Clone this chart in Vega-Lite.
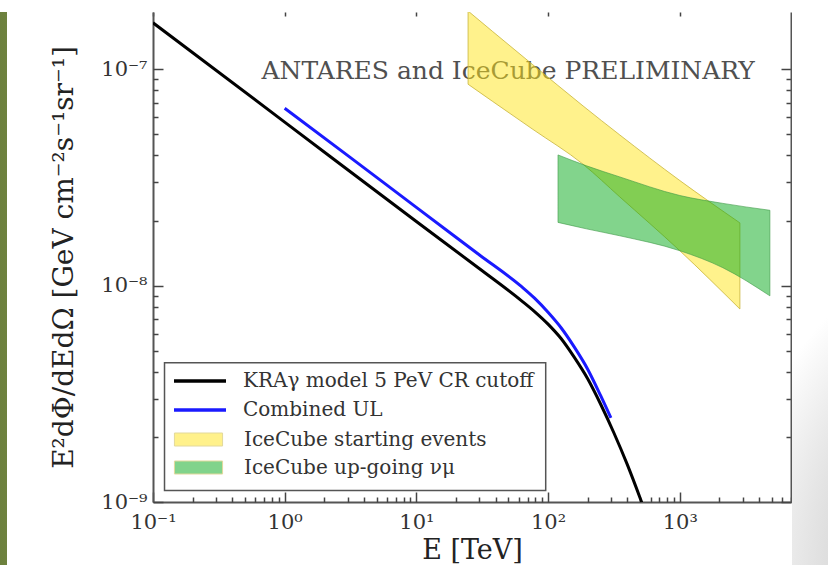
{
  "$schema": "https://vega.github.io/schema/vega-lite/v6.json",
  "background": "white",
  "padding": {"left": 0, "top": 11, "right": 0, "bottom": 0},
  "spacing": 0,
  "config": {
    "font": "DejaVu Serif",
    "view": {"stroke": null},
    "axis": {"grid": false, "labelFont": "DejaVu Serif", "titleFont": "DejaVu Serif"},
    "legend": {"labelFont": "DejaVu Serif"}
  },
  "datasets": {
    "kra": [
      {"series": "KRAγ model 5 PeV CR cutoff", "E": 0.1, "flux": 1.64e-7},
      {"series": "KRAγ model 5 PeV CR cutoff", "E": 1, "flux": 5.70e-8},
      {"series": "KRAγ model 5 PeV CR cutoff", "E": 10, "flux": 1.98e-8},
      {"series": "KRAγ model 5 PeV CR cutoff", "E": 30, "flux": 1.20e-8},
      {"series": "KRAγ model 5 PeV CR cutoff", "E": 63, "flux": 8.51e-9},
      {"series": "KRAγ model 5 PeV CR cutoff", "E": 79, "flux": 7.59e-9},
      {"series": "KRAγ model 5 PeV CR cutoff", "E": 100, "flux": 6.64e-9},
      {"series": "KRAγ model 5 PeV CR cutoff", "E": 126, "flux": 5.68e-9},
      {"series": "KRAγ model 5 PeV CR cutoff", "E": 158, "flux": 4.67e-9},
      {"series": "KRAγ model 5 PeV CR cutoff", "E": 200, "flux": 3.71e-9},
      {"series": "KRAγ model 5 PeV CR cutoff", "E": 251, "flux": 2.83e-9},
      {"series": "KRAγ model 5 PeV CR cutoff", "E": 316, "flux": 2.09e-9},
      {"series": "KRAγ model 5 PeV CR cutoff", "E": 398, "flux": 1.50e-9},
      {"series": "KRAγ model 5 PeV CR cutoff", "E": 501, "flux": 1.04e-9},
      {"series": "KRAγ model 5 PeV CR cutoff", "E": 631, "flux": 7.0e-10}
    ],
    "ul": [
      {"series": "Combined UL", "E": 1, "flux": 6.61e-8},
      {"series": "Combined UL", "E": 3, "flux": 4.00e-8},
      {"series": "Combined UL", "E": 10, "flux": 2.30e-8},
      {"series": "Combined UL", "E": 30, "flux": 1.39e-8},
      {"series": "Combined UL", "E": 63, "flux": 9.89e-9},
      {"series": "Combined UL", "E": 79, "flux": 8.75e-9},
      {"series": "Combined UL", "E": 100, "flux": 7.53e-9},
      {"series": "Combined UL", "E": 126, "flux": 6.37e-9},
      {"series": "Combined UL", "E": 158, "flux": 5.21e-9},
      {"series": "Combined UL", "E": 200, "flux": 4.11e-9},
      {"series": "Combined UL", "E": 251, "flux": 3.10e-9},
      {"series": "Combined UL", "E": 300, "flux": 2.45e-9}
    ],
    "starting": [
      {"series": "IceCube starting events", "E": 24.7, "lo": 8.53e-8, "hi": 1.86e-7},
      {"series": "IceCube starting events", "E": 38, "lo": 7.10e-8, "hi": 1.494e-7},
      {"series": "IceCube starting events", "E": 76.6, "lo": 5.28e-8, "hi": 1.05e-7},
      {"series": "IceCube starting events", "E": 184.5, "lo": 3.64e-8, "hi": 6.77e-8},
      {"series": "IceCube starting events", "E": 351, "lo": 2.57e-8, "hi": 4.97e-8},
      {"series": "IceCube starting events", "E": 1002, "lo": 1.45e-8, "hi": 3.06e-8},
      {"series": "IceCube starting events", "E": 2864, "lo": 7.80e-9, "hi": 1.95e-8}
    ],
    "upgoing": [
      {"series": "IceCube up-going νμ", "E": 119, "lo": 1.96e-8, "hi": 4.02e-8},
      {"series": "IceCube up-going νμ", "E": 196, "lo": 1.83e-8, "hi": 3.58e-8},
      {"series": "IceCube up-going νμ", "E": 351, "lo": 1.70e-8, "hi": 3.18e-8},
      {"series": "IceCube up-going νμ", "E": 1002, "lo": 1.45e-8, "hi": 2.61e-8},
      {"series": "IceCube up-going νμ", "E": 2128, "lo": 1.21e-8, "hi": 2.40e-8},
      {"series": "IceCube up-going νμ", "E": 4840, "lo": 8.97e-9, "hi": 2.23e-8}
    ],
    "note": [
      {"label": "ANTARES and IceCube PRELIMINARY"}
    ],
    "frame": [
      {"part": "legend box"}
    ]
  },
  "hconcat": [
    {
      "width": 50,
      "height": 554,
      "view": {
        "stroke": null,
        "fill": {
          "gradient": "linear", "x1": 0, "y1": 0, "x2": 1, "y2": 0,
          "stops": [
            {"offset": 0, "color": "#6c803d"},
            {"offset": 0.14, "color": "#6e823e"},
            {"offset": 0.141, "color": "#ffffff"},
            {"offset": 1, "color": "#ffffff"}
          ]
        }
      },
      "data": {"values": []},
      "mark": "point"
    },
    {
      "width": 638,
      "height": 490,
      "resolve": {"axis": {"x": "independent", "y": "independent"}},
      "layer": [
        {
          "data": {"name": "note"},
          "mark": {"type": "text", "align": "right", "baseline": "alphabetic", "font": "DejaVu Serif", "fontSize": 25, "fill": "#505050"},
          "encoding": {
            "x": {"datum": 3720, "type": "quantitative",
                  "scale": {"type": "log", "domain": [0.1, 7000], "nice": false},
                  "axis": {"orient": "top", "values": [0.1, 1, 10, 100, 1000], "domain": false, "labels": false, "ticks": true, "tickSize": -4, "tickColor": "#444444", "tickWidth": 1.5, "title": null}},
            "y": {"datum": 9.0e-8, "type": "quantitative",
                  "scale": {"type": "log", "domain": [1e-9, 1.84e-7], "nice": false},
                  "axis": {"orient": "right", "values": [2e-9, 3e-9, 4e-9, 5e-9, 6e-9, 7e-9, 8e-9, 9e-9, 2e-8, 3e-8, 4e-8, 5e-8, 6e-8, 7e-8, 8e-8, 9e-8], "domain": false, "labels": false, "ticks": true, "tickSize": -5, "tickColor": "#444444", "tickWidth": 1.5, "title": null}},
            "text": {"field": "label"}
          }
        },
        {
          "data": {"name": "starting"},
          "mark": {"type": "area", "clip": true, "fillOpacity": 0.5, "stroke": "#c8b43a", "strokeWidth": 1, "strokeOpacity": 0.8, "interpolate": "monotone"},
          "encoding": {
            "x": {"field": "E", "type": "quantitative",
                  "scale": {"type": "log", "domain": [0.1, 7000], "nice": false},
                  "axis": {"orient": "bottom", "values": [0.1, 1, 10, 100, 1000], "ticks": false, "domain": true, "domainColor": "#555555", "domainWidth": 2,
                           "labelExpr": "datum.value < 0.5 ? '10⁻¹' : datum.value < 5 ? '10⁰' : datum.value < 50 ? '10¹' : datum.value < 500 ? '10²' : '10³'",
                           "labelFont": "DejaVu Serif", "labelFontSize": 21, "labelColor": "#333333", "labelPadding": 9, "labelFlush": false, "labelOverlap": false,
                           "title": "E [TeV]", "titleFont": "DejaVu Serif", "titleFontSize": 27, "titleFontWeight": "normal", "titleColor": "#222222",
                           "titleX": 319, "titleY": 56, "titleAlign": "center", "titleBaseline": "alphabetic"}},
            "y": {"field": "hi", "type": "quantitative",
                  "scale": {"type": "log", "domain": [1e-9, 1.84e-7], "nice": false},
                  "axis": {"orient": "left", "values": [1e-9, 1e-8, 1e-7], "ticks": false, "domain": true, "domainColor": "#555555", "domainWidth": 2,
                           "labelExpr": "datum.value < 5e-9 ? '10⁻⁹' : datum.value < 5e-8 ? '10⁻⁸' : '10⁻⁷'",
                           "labelFont": "DejaVu Serif", "labelFontSize": 21, "labelColor": "#333333", "labelPadding": 6, "labelFlush": false, "labelOverlap": false, "labelBaseline": "middle",
                           "title": "E²dΦ/dEdΩ [GeV cm⁻²s⁻¹sr⁻¹]", "titleFont": "DejaVu Serif", "titleFontSize": 28, "titleFontWeight": "normal", "titleColor": "#222222",
                           "titleX": -88.5, "titleY": 245, "titleAngle": -90, "titleAlign": "center", "titleBaseline": "middle"}},
            "y2": {"field": "lo"},
            "fill": {"field": "series", "type": "nominal",
                     "scale": {"domain": ["IceCube starting events", "IceCube up-going νμ"], "range": ["#ffe519", "#05a919"]},
                     "legend": {
                       "orient": "none", "legendX": 172, "legendY": 414, "title": null, "direction": "vertical",
                       "padding": 0, "rowPadding": 4,
                       "labelFont": "DejaVu Serif", "labelFontSize": 20, "labelColor": "#333333", "labelOffset": 32, "labelLimit": 400,
                       "symbolSize": 676, "symbolOffset": 13, "symbolType": "M-1.85,-0.5H1.85V0.5H-1.85Z", "symbolStrokeWidth": 1, "symbolOpacity": 0.5
                     }}
          }
        },
        {
          "data": {"name": "upgoing"},
          "mark": {"type": "area", "clip": true, "fillOpacity": 0.5, "stroke": "#3f9a48", "strokeWidth": 1, "strokeOpacity": 0.6, "interpolate": "monotone"},
          "encoding": {
            "x": {"field": "E", "type": "quantitative",
                  "scale": {"type": "log", "domain": [0.1, 7000], "nice": false},
                  "axis": {"orient": "bottom", "values": [0.1, 1, 10, 100, 1000], "domain": false, "labels": false, "ticks": true, "tickSize": -10, "tickColor": "#444444", "tickWidth": 1.5, "title": null}},
            "y": {"field": "hi", "type": "quantitative",
                  "scale": {"type": "log", "domain": [1e-9, 1.84e-7], "nice": false},
                  "axis": {"orient": "left", "values": [1e-9, 1e-8, 1e-7], "domain": false, "labels": false, "ticks": true, "tickSize": -10, "tickColor": "#444444", "tickWidth": 1.5, "title": null}},
            "y2": {"field": "lo"},
            "fill": {"field": "series", "type": "nominal"}
          }
        },
        {
          "data": {"name": "kra"},
          "mark": {"type": "line", "clip": true, "strokeWidth": 3, "interpolate": "monotone"},
          "encoding": {
            "x": {"field": "E", "type": "quantitative",
                  "scale": {"type": "log", "domain": [0.1, 7000], "nice": false},
                  "axis": {"orient": "bottom", "values": [0.2, 0.3, 0.4, 0.5, 0.6, 0.7, 0.8, 0.9, 2, 3, 4, 5, 6, 7, 8, 9, 20, 30, 40, 50, 60, 70, 80, 90, 200, 300, 400, 500, 600, 700, 800, 900, 2000, 3000, 4000, 5000, 6000, 7000], "domain": false, "labels": false, "ticks": true, "tickSize": -5, "tickColor": "#444444", "tickWidth": 1.5, "title": null}},
            "y": {"field": "flux", "type": "quantitative",
                  "scale": {"type": "log", "domain": [1e-9, 1.84e-7], "nice": false},
                  "axis": {"orient": "left", "values": [2e-9, 3e-9, 4e-9, 5e-9, 6e-9, 7e-9, 8e-9, 9e-9, 2e-8, 3e-8, 4e-8, 5e-8, 6e-8, 7e-8, 8e-8, 9e-8], "domain": false, "labels": false, "ticks": true, "tickSize": -5, "tickColor": "#444444", "tickWidth": 1.5, "title": null}},
            "stroke": {"field": "series", "type": "nominal",
                       "scale": {"domain": ["KRAγ model 5 PeV CR cutoff", "Combined UL"], "range": ["#000000", "#1a1aff"]},
                       "legend": {
                         "orient": "none", "legendX": 172, "legendY": 354, "title": null, "direction": "vertical",
                         "padding": 0, "rowPadding": 4,
                         "labelFont": "DejaVu Serif", "labelFontSize": 20, "labelColor": "#333333", "labelOffset": 28, "labelLimit": 400,
                         "symbolSize": 676, "symbolOffset": 13, "symbolType": "M-2,0H2", "symbolStrokeWidth": 3.5
                       }}
          }
        },
        {
          "data": {"name": "ul"},
          "mark": {"type": "line", "clip": true, "strokeWidth": 3, "interpolate": "monotone"},
          "encoding": {
            "x": {"field": "E", "type": "quantitative",
                  "scale": {"type": "log", "domain": [0.1, 7000], "nice": false},
                  "axis": null},
            "y": {"field": "flux", "type": "quantitative",
                  "scale": {"type": "log", "domain": [1e-9, 1.84e-7], "nice": false},
                  "axis": {"orient": "right", "values": [1e-9, 1e-8, 1e-7], "domain": true, "domainColor": "#555555", "domainWidth": 2, "labels": false, "ticks": true, "tickSize": -10, "tickColor": "#444444", "tickWidth": 1.5, "title": null}},
            "stroke": {"field": "series", "type": "nominal"}
          }
        },
        {
          "data": {"name": "frame"},
          "mark": {"type": "rect", "fill": "white", "stroke": "#555555", "strokeWidth": 1.5},
          "encoding": {
            "x": {"datum": 0.1223, "type": "quantitative", "scale": {"type": "log", "domain": [0.1, 7000], "nice": false}, "axis": null},
            "x2": {"datum": 96},
            "y": {"datum": 4.40e-9, "type": "quantitative", "scale": {"type": "log", "domain": [1e-9, 1.84e-7], "nice": false}, "axis": null},
            "y2": {"datum": 1.13e-9}
          }
        }
      ]
    },
    {
      "width": 36,
      "height": 554,
      "view": {
        "stroke": null,
        "fill": {
          "gradient": "radial", "x1": 1.0, "y1": 1.0, "r1": 0, "x2": 1.0, "y2": 1.0, "r2": 0.65,
          "stops": [
            {"offset": 0, "color": "#c4c4c4"},
            {"offset": 0.55, "color": "#cacaca"},
            {"offset": 1, "color": "#ffffff"}
          ]
        }
      },
      "data": {"values": []},
      "mark": "point"
    }
  ]
}
